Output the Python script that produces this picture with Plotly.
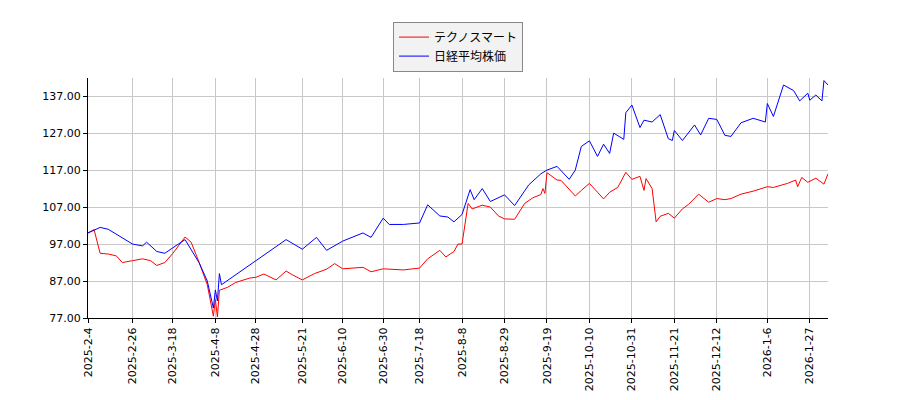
import plotly.graph_objects as go

tech_dates = ["2025-02-04","2025-02-07","2025-02-10","2025-02-14","2025-02-18","2025-02-21","2025-02-26","2025-03-03","2025-03-07","2025-03-10","2025-03-14","2025-03-18","2025-03-24","2025-03-27","2025-03-31","2025-04-04","2025-04-07","2025-04-08","2025-04-09","2025-04-10","2025-04-14","2025-04-18","2025-04-25","2025-04-28","2025-05-02","2025-05-08","2025-05-13","2025-05-16","2025-05-21","2025-05-27","2025-06-02","2025-06-06","2025-06-10","2025-06-20","2025-06-24","2025-06-30","2025-07-10","2025-07-18","2025-07-22","2025-07-28","2025-07-31","2025-08-04","2025-08-06","2025-08-08","2025-08-11","2025-08-13","2025-08-18","2025-08-22","2025-08-26","2025-08-29","2025-09-03","2025-09-08","2025-09-12","2025-09-16","2025-09-17","2025-09-18","2025-09-19","2025-09-24","2025-09-26","2025-09-30","2025-10-03","2025-10-06","2025-10-10","2025-10-14","2025-10-17","2025-10-20","2025-10-24","2025-10-28","2025-10-31","2025-11-04","2025-11-06","2025-11-07","2025-11-10","2025-11-12","2025-11-14","2025-11-18","2025-11-21","2025-11-25","2025-11-28","2025-12-03","2025-12-08","2025-12-12","2025-12-16","2025-12-19","2025-12-24","2025-12-30","2026-01-06","2026-01-09","2026-01-16","2026-01-20","2026-01-21","2026-01-23","2026-01-26","2026-01-30","2026-02-03","2026-02-05"]
tech_vals = [100,100.9,94.5,94.3,93.8,92,92.5,93,92.5,91.2,92,94.5,98.9,97.5,92,86,77.5,82,77.3,84.5,85.3,86.6,87.8,88,88.9,87.3,89.7,88.7,87.3,89,90.2,91.7,90.3,90.7,89.5,90.3,90,90.5,93,95.3,93.5,95,97,97,108,106.5,107.5,107,104.6,103.8,103.7,108,109.5,110.4,112,110.7,116.3,114.3,114.2,111.8,110,111.5,113.4,111,109.2,111,112.3,116.4,114.5,115.3,111.5,114.7,112,103,104.5,105.3,104,106.5,107.7,110.5,108.3,109.3,109,109.3,110.5,111.3,112.5,112.3,113.4,114.3,112.5,115,113.7,114.8,113.2,116]

nk_dates = ["2025-02-04","2025-02-10","2025-02-14","2025-02-20","2025-02-26","2025-03-03","2025-03-05","2025-03-10","2025-03-14","2025-03-18","2025-03-24","2025-03-31","2025-04-04","2025-04-07","2025-04-08","2025-04-09","2025-04-10","2025-04-11","2025-04-28","2025-05-13","2025-05-21","2025-05-28","2025-06-02","2025-06-10","2025-06-20","2025-06-24","2025-06-30","2025-07-03","2025-07-10","2025-07-18","2025-07-22","2025-07-28","2025-08-01","2025-08-04","2025-08-08","2025-08-12","2025-08-14","2025-08-18","2025-08-22","2025-08-29","2025-09-03","2025-09-10","2025-09-16","2025-09-19","2025-09-24","2025-09-30","2025-10-03","2025-10-06","2025-10-10","2025-10-14","2025-10-17","2025-10-20","2025-10-22","2025-10-27","2025-10-28","2025-10-31","2025-11-04","2025-11-06","2025-11-10","2025-11-14","2025-11-18","2025-11-20","2025-11-21","2025-11-25","2025-12-01","2025-12-04","2025-12-08","2025-12-12","2025-12-16","2025-12-19","2025-12-24","2025-12-30","2026-01-05","2026-01-06","2026-01-09","2026-01-14","2026-01-19","2026-01-22","2026-01-26","2026-01-27","2026-01-30","2026-02-02","2026-02-03","2026-02-05"]
nk_vals = [100,101.5,101,99,97,96.5,97.5,95,94.5,96,98.2,91.9,87,79.7,84.6,81.6,89,86,92.4,98.2,95.6,98.8,95.3,97.8,100,98.8,104,102.3,102.3,102.7,107.6,104.6,104.3,103,105,111.7,109,112,108.5,110.3,107.4,113,116,117,118,114.5,117,123.4,124.9,120.7,124,121.5,127,125.3,132.5,134.6,128.5,130.5,130,132,125.5,125,127.7,125,129.2,126.5,131,130.7,126.4,126.1,129.8,131,130,135,131.5,140,138.5,135.7,137.8,135.9,137.3,135.7,141.2,140]

tick_dates = ["2025-02-04","2025-02-26","2025-03-18","2025-04-08","2025-04-28","2025-05-21","2025-06-10","2025-06-30","2025-07-18","2025-08-08","2025-08-29","2025-09-19","2025-10-10","2025-10-31","2025-11-21","2025-12-12","2026-01-06","2026-01-27"]
tick_text = ["2025-2-4","2025-2-26","2025-3-18","2025-4-8","2025-4-28","2025-5-21","2025-6-10","2025-6-30","2025-7-18","2025-8-8","2025-8-29","2025-9-19","2025-10-10","2025-10-31","2025-11-21","2025-12-12","2026-1-6","2026-1-27"]
y_ticks = [77, 87, 97, 107, 117, 127, 137]

fig = go.Figure()
fig.add_trace(go.Scatter(x=tech_dates, y=tech_vals, mode="lines", name="テクノスマート", line=dict(color="#ff0000", width=1)))
fig.add_trace(go.Scatter(x=nk_dates, y=nk_vals, mode="lines", name="日経平均株価", line=dict(color="#0000ff", width=1)))

axis_common = dict(showgrid=True, gridcolor="#c8c8c8", gridwidth=1, showline=True, linecolor="black", linewidth=1,
                   ticks="outside", ticklen=4, tickcolor="black", zeroline=False, mirror=False, automargin=False,
                   tickfont=dict(family="DejaVu Sans", size=11, color="black"))
fig.update_layout(
    width=900, height=400, plot_bgcolor="white", paper_bgcolor="white",
    margin=dict(l=80, r=80, t=70, b=90),
    font=dict(family="DejaVu Sans, Noto Sans CJK JP", size=12, color="black"),
    legend=dict(x=0.5, xanchor="center", y=1.235, yanchor="top", bgcolor="#f2f2f2", bordercolor="#888", borderwidth=1,
                tracegroupgap=0, itemwidth=30, font=dict(size=12, family="Noto Sans CJK JP")),
    xaxis=dict(axis_common, type="date", range=["2025-02-04", "2026-02-05"], tickvals=tick_dates, ticktext=tick_text, tickangle=-90),
    yaxis=dict(axis_common, range=[77, 141.9], tickvals=y_ticks, ticktext=[f"{v:.2f}" for v in y_ticks]),
)
fig.write_html("out.html")
